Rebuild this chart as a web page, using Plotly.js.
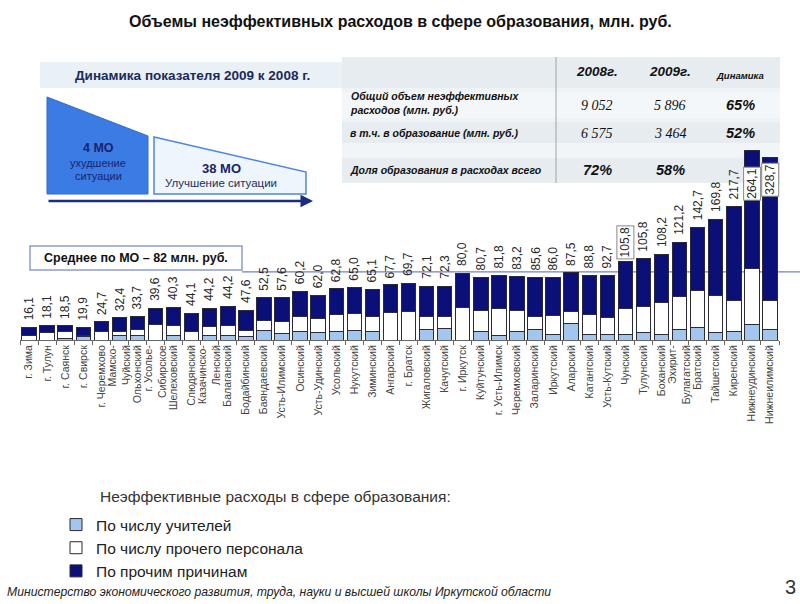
<!DOCTYPE html>
<html><head><meta charset="utf-8">
<script src="https://cdn.plot.ly/plotly-3.0.1.min.js"></script>
<style>body{margin:0;background:#fff}#chart{width:800px;height:604px}</style>
</head><body><div id="chart"></div>
<script>
// ---------- data ----------
const categories = ["г. Зима","г. Тулун","г. Саянск","г. Свирск","г. Черемхово","Мамско-<br>Чуйский","Ольхонский","г. Усолье-<br>Сибирское","Шелеховский","Слюдянский","Казачинско-<br>Ленский","Балаганский","Бодайбинский","Баяндаевский","Усть-Илимский","Осинский","Усть-Удинский","Усольский","Нукутский","Зиминский","Ангарский","г. Братск","Жигаловский","Качугский","г. Иркутск","Куйтунский","г. Усть-Илимск","Черемховский","Заларинский","Иркутский","Аларский","Катангский","Усть-Кутский","Чунский","Тулунский","Боханский","Эхирит-<br>Булагатский","Братский","Тайшетский","Киренский","Нижнеудинский","Нижнеилимский"];
const teachers = [0,0,2.0,4.0,0,6.0,6.0,0,6.0,0,6.0,6.0,4.8,12.0,8.1,10.0,8.8,10.0,12.0,10.8,0,0,12.9,14.1,0,10.0,6.0,10.8,13.1,6.6,19.8,6.6,6.6,6.6,8.8,6.6,13.1,14.5,8.8,10.1,18.4,13.1];
const otherStaff = [6.0,9.3,8.0,2.0,10.0,4.8,6.9,18.1,12.0,10.0,10.0,12.0,7.2,12.0,14.0,18.9,17.3,21.0,20.1,18.1,32.9,34.9,16.0,14.8,39.4,25.3,32.2,24.5,15.3,22.8,14.0,24.1,20.6,31.6,31.9,38.6,39.4,44.7,45.2,38.1,68.0,34.2];
const otherReasons = [9.3,8.0,7.2,9.3,12.0,16.0,16.0,20.1,21.3,22.2,22.2,22.9,24.1,26.9,28.9,30.1,28.1,30.5,31.3,32.5,33.4,33.4,36.1,36.1,41.0,39.8,39.3,41.0,46.9,46.0,47.3,47.3,50.8,57.0,57.8,57.8,65.3,76.3,91.6,112.5,141.6,172.3];
const totalLabels = ["16,1","18,1","18,5","19,9","24,7","32,4","33,7","39,6","40,3","44,1","44,2","44,2","47,6","52,5","57,6","60,2","62,0","62,8","65,0","65,1","67,7","69,7","72,1","72,3","80,0","80,7","81,8","83,2","85,6","86,0","87,5","88,8","92,7","105,8","105,8","108,2","121,2","142,7","169,8","217,7","264,1","328,7"];
const seriesNames = ["По числу учителей","По числу прочего персонала","По прочим причинам"];
const averageValue = 82;
const tableHeaders = ["2008г.","2009г.","Динамика"];
const tableRowLabels = ["Общий объем неэффективных<br>расходов (млн. руб.)","в т.ч. в образование (млн. руб.)","Доля образования в расходах всего"];
const values2008 = ["9 052","6 575","72%"];
const values2009 = ["5 896","3 464","58%"];
const dynamics = ["65%","52%",""];

// ---------- layout helpers ----------
const PL = 20, PW = 759, PB = 340, PH = 200;
const px = x => (x - PL) / PW;
const py = y => (PB - y) / PH;
const NAVY = '#0b0f78', LBLUE = '#a3c6ee', SANS = 'Liberation Sans, Arial, sans-serif';

const traces = [
  {name: seriesNames[0], y: teachers, color: LBLUE},
  {name: seriesNames[1], y: otherStaff, color: '#ffffff'},
  {name: seriesNames[2], y: otherReasons, color: NAVY}
].map(s => ({
  type: 'bar', x: categories, y: s.y, name: s.name,
  marker: {color: s.color, line: {color: '#2a2a3a', width: 1}},
  hoverinfo: 'skip'
}));

const shapes = [];
const annotations = [];
function txt(text, x, y, size, opts = {}) {
  annotations.push(Object.assign({
    text, x: px(x), y: py(y), xref: 'paper', yref: 'paper', showarrow: false,
    xanchor: 'center', yanchor: 'middle',
    font: {family: SANS, size, color: '#1a1a1a'}
  }, opts));
}
function rect(x0, y0, x1, y1, fill, line, lw, layer) {
  shapes.push({type: 'rect', xref: 'paper', yref: 'paper', x0: px(x0), x1: px(x1), y0: py(y1), y1: py(y0),
    fillcolor: fill, line: {color: line || 'rgba(0,0,0,0)', width: lw || 0}, layer: layer || 'below'});
}
function poly(pts, fill, line, lw) {
  const d = pts.map((p, i) => (i ? 'L' : 'M') + px(p[0]) + ',' + py(p[1])).join(' ') + ' Z';
  shapes.push({type: 'path', xref: 'paper', yref: 'paper', path: d, fillcolor: fill, line: {color: line, width: lw}, layer: 'below'});
}

// title
txt('Объемы неэффективных расходов в сфере образования, млн. руб.', 400, 22, 16, {font: {family: SANS, size: 16, color: '#111', weight: 'bold'}});

// left panel
rect(40, 62, 344, 88, '#e9f0f6');
txt('Динамика показателя 2009 к 2008 г.', 192, 75, 13.5, {font: {family: SANS, size: 13.5, color: '#1c2a5c', weight: 'bold'}});
poly([[47, 97], [148, 136], [148, 194], [47, 194]], '#3b7ce4', '#2e6bd0', 1);
poly([[154, 137], [306, 172], [306, 194], [154, 194]], '#eef5fc', '#4d86e0', 1.5);
txt('4 МО', 98, 148, 12.5, {font: {family: SANS, size: 12.5, color: '#18246a', weight: 'bold'}});
txt('ухудшение', 98, 163, 11, {font: {family: SANS, size: 11, color: '#18246a'}});
txt('ситуации', 98, 176, 11, {font: {family: SANS, size: 11, color: '#18246a'}});
txt('38 МО', 221, 168, 13, {font: {family: SANS, size: 13, color: '#18246a', weight: 'bold'}});
txt('Улучшение ситуации', 221, 183, 11.5, {font: {family: SANS, size: 11.5, color: '#22305a'}});
annotations.push({x: px(313), y: py(201), xref: 'paper', yref: 'paper', ax: -266, ay: 0, text: '',
  showarrow: true, arrowhead: 2, arrowsize: 1, arrowwidth: 2.5, arrowcolor: '#1a2d80'});

// average box and line
rect(30, 246, 242, 270, '#ffffff', '#8d9dcc', 1.5, 'above');
txt('Среднее по МО – 82 млн. руб.', 136, 258, 12.5, {font: {family: SANS, size: 12.5, color: '#111', weight: 'bold'}});
shapes.push({type: 'line', xref: 'paper', yref: 'y', x0: px(242), x1: px(800), y0: averageValue, y1: averageValue,
  line: {color: '#7080c8', width: 1.2}, layer: 'below'});

// table
rect(342, 57, 780, 183, '#e6ecf0');
rect(342, 88, 780, 122, '#eef3f6');
rect(342, 92, 780, 118, '#f4f7f9');
rect(342, 143, 780, 158, '#f1f5f8');
shapes.push({type: 'line', xref: 'paper', yref: 'paper', x0: px(556), x1: px(556), y0: py(57), y1: py(183),
  line: {color: '#9ba5ad', width: 1}, layer: 'below'});
const colX = [597, 670, 740];
tableHeaders.forEach((h, i) => {
  const sz = i === 2 ? 9.5 : 13.5;
  txt(h, colX[i], i === 2 ? 76 : 71, sz, {font: {family: SANS, size: sz, color: '#111', weight: 'bold', style: 'italic'}});
});
const rowY = [105, 133, 170];
tableRowLabels.forEach((r, i) => {
  txt(r, 348, rowY[i] - (i === 0 ? 2 : 0), 10.5, {xanchor: 'left', align: 'left',
    font: {family: SANS, size: 10.5, color: '#111', weight: 'bold', style: 'italic'}});
});
[values2008, values2009].forEach((col, c) => {
  col.forEach((v, i) => {
    if (v.indexOf('%') >= 0) {
      txt(v, colX[c], rowY[i], 14.5, {font: {family: SANS, size: 14.5, color: '#111', weight: 'bold', style: 'italic'}});
    } else {
      txt(v, colX[c], rowY[i], 14, {font: {family: 'Liberation Serif, Times New Roman, serif', size: 14, color: '#111', style: 'italic'}});
    }
  });
});
dynamics.forEach((v, i) => {
  if (v) txt(v, colX[2], rowY[i], 14.5, {font: {family: SANS, size: 14.5, color: '#111', weight: 'bold', style: 'italic'}});
});

// bar total labels
categories.forEach((c, i) => {
  const total = teachers[i] + otherStaff[i] + otherReasons[i];
  const a = {x: c, y: total, xref: 'x', yref: 'y', text: totalLabels[i], textangle: -90, showarrow: false,
    xanchor: 'center', yanchor: 'bottom', yshift: 5, font: {family: SANS, size: 12, color: '#2a2a2a'}};
  if (i === 33) { a.bgcolor = '#ffffff'; a.bordercolor = '#888'; a.borderwidth = 1; a.borderpad = 1; a.yshift = 2; }
  if (i >= 40) { a.bgcolor = '#ffffff'; a.bordercolor = '#888'; a.borderwidth = 1; a.borderpad = 1;
    a.yanchor = 'top'; a.yshift = i === 40 ? -16 : -5; }
  annotations.push(a);
});

// legend title
txt('Неэффективные расходы в сфере образования:', 98, 496, 15.5, {xanchor: 'left', font: {family: SANS, size: 15.5, color: '#333'}});

// footer
txt('Министерство экономического развития, труда, науки и высшей школы Иркутской области', 5, 592, 12.2,
  {xanchor: 'left', font: {family: SANS, size: 12.2, color: '#222', style: 'italic'}});
txt('3', 790, 587, 20, {font: {family: SANS, size: 20, color: '#333'}});

const layout = {
  width: 800, height: 604, paper_bgcolor: '#ffffff', plot_bgcolor: 'rgba(0,0,0,0)',
  margin: {l: PL, r: 800 - PL - PW, t: PB - PH, b: 604 - PB},
  barmode: 'stack', bargap: 0.2, showlegend: true,
  legend: {x: px(56), y: py(508), xanchor: 'left', yanchor: 'top', traceorder: 'normal',
    font: {family: SANS, size: 15.5, color: '#222'}, bgcolor: 'rgba(0,0,0,0)'},
  xaxis: {type: 'category', tickangle: -90, tickfont: {family: SANS, size: 10.5, color: '#444'},
    ticks: 'outside', tickson: 'boundaries', ticklen: 4, tickcolor: '#666', showline: true, linecolor: '#666',
    linewidth: 1, automargin: false, fixedrange: true},
  yaxis: {range: [0, 241], visible: false, showgrid: false, zeroline: false, fixedrange: true},
  shapes, annotations
};
Plotly.newPlot('chart', traces, layout, {displayModeBar: false, staticPlot: true});
</script>
</body></html>
